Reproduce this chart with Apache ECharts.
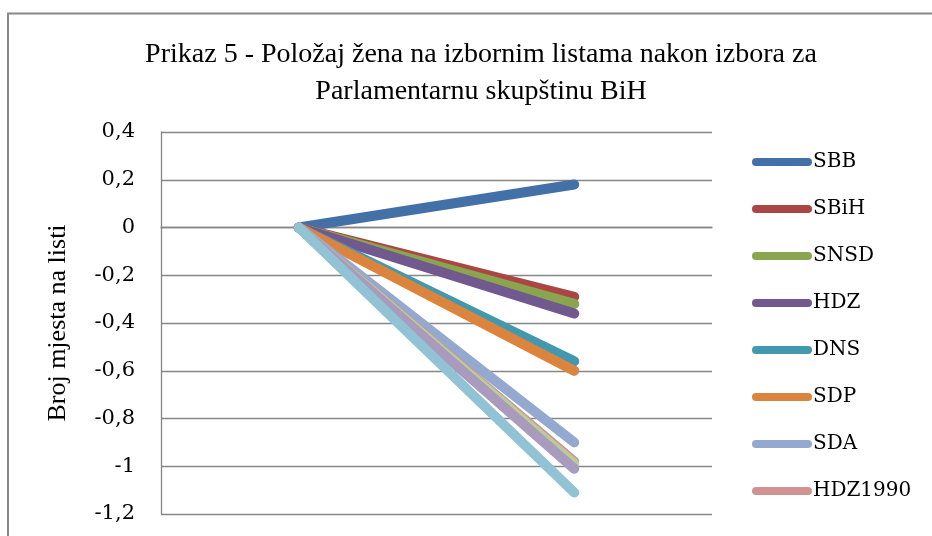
<!DOCTYPE html>
<html>
<head>
<meta charset="utf-8">
<script src="https://cdn.jsdelivr.net/npm/echarts@6/dist/echarts.min.js"></script>
<style>html,body{margin:0;padding:0;background:#fff}#c{width:932px;height:536px}</style>
</head>
<body>
<div id="c"></div>
<script>
const categories = ['1', '2'];
const seriesNames = ['SBB', 'SBiH', 'SNSD', 'HDZ', 'DNS', 'SDP', 'SDA', 'HDZ1990', 'SDS', 'PDP', 'NSRzB'];
const legendNames = ['SBB', 'SBiH', 'SNSD', 'HDZ', 'DNS', 'SDP', 'SDA', 'HDZ1990'];
const SBB = [0, 0.18];
const SBiH = [0, -0.29];
const SNSD = [0, -0.32];
const HDZ = [0, -0.36];
const DNS = [0, -0.56];
const SDP = [0, -0.60];
const SDA = [0, -0.90];
const HDZ1990 = [0, -0.98];
const SDS = [0, -0.99];
const PDP = [0, -1.01];
const NSRzB = [0, -1.11];
const seriesValues = [SBB, SBiH, SNSD, HDZ, DNS, SDP, SDA, HDZ1990, SDS, PDP, NSRzB];
const yTicks = { min: -1.2, max: 0.4, interval: 0.2 };

const colors = ['#4470A8', '#AA4643', '#89A54E', '#71588F', '#4198AF', '#DB843D', '#93A9CF', '#D19392', '#B9CD96', '#A99BBD', '#91C3D5'];

const chart = echarts.init(document.getElementById('c'), null, { renderer: 'canvas' });
chart.setOption({
  animation: false,
  color: colors,
  title: {
    text: 'Prikaz 5 - Položaj žena na izbornim listama nakon izbora za\nParlamentarnu skupštinu BiH',
    left: 476, textAlign: 'center', top: 31,
    textStyle: { fontFamily: '"Liberation Serif", "Times New Roman", serif', fontSize: 28, fontWeight: 'normal', color: '#000', lineHeight: 37 }
  },
  grid: { left: 161, right: 220, top: 132, bottom: 22, containLabel: false },
  legend: {
    orient: 'vertical', left: 747, top: 146, height: 700,
    itemWidth: 60, itemHeight: 9, itemGap: 25,
    icon: 'path://M4,0 H56 A4,4 0 0 1 56,8 H4 A4,4 0 0 1 4,0 Z',
    data: legendNames,
    textStyle: { fontFamily: 'DejaVu Serif', fontSize: 20, color: '#000', lineHeight: 22, padding: [0, 0, 0, -4] }
  },
  xAxis: {
    type: 'category', data: categories, boundaryGap: true,
    axisLine: { lineStyle: { color: '#868686', width: 1.3 } },
    axisTick: { show: false }, axisLabel: { show: false }, splitLine: { show: false }
  },
  yAxis: {
    type: 'value', min: yTicks.min, max: yTicks.max, interval: yTicks.interval,
    name: 'Broj mjesta na listi', nameLocation: 'middle', nameGap: 90, nameRotate: 90,
    nameTextStyle: { fontFamily: '"Liberation Serif", "Times New Roman", serif', fontSize: 26, color: '#000' },
    axisLine: { show: true, lineStyle: { color: '#868686', width: 1.3 } },
    axisTick: { show: false },
    axisLabel: {
      margin: 26, fontFamily: 'DejaVu Serif', fontSize: 21, color: '#000',
      formatter: v => String(Math.round(v * 10) / 10).replace('.', ',')
    },
    splitLine: { lineStyle: { color: '#868686', width: 1.3 } }
  },
  graphic: [{
    type: 'polyline', silent: true,
    shape: { points: [[8, 560], [8, 13.5], [940, 13.5]] },
    style: { stroke: '#888', lineWidth: 2, fill: null }
  }],
  series: seriesNames.map((n, i) => ({
    name: n, type: 'line', data: seriesValues[i],
    symbol: 'none', showSymbol: false,
    lineStyle: { width: 10, cap: 'round', color: colors[i] },
    itemStyle: { color: colors[i] }
  }))
});
</script>
</body>
</html>
